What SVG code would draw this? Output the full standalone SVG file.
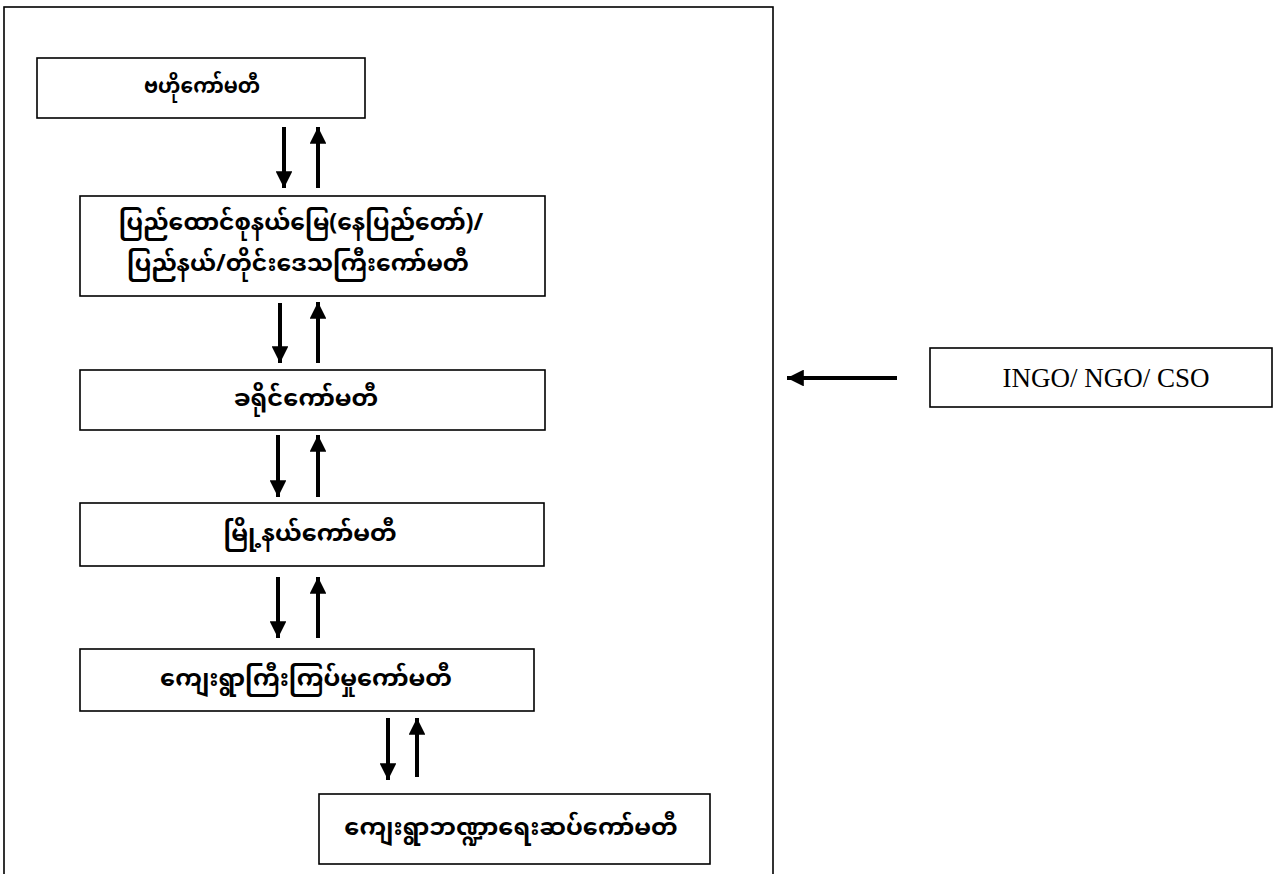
<svg xmlns="http://www.w3.org/2000/svg" width="1282" height="874" viewBox="0 0 1282 874">
<defs>
<marker id="ah" viewBox="0 0 10 10" refX="10" refY="5" markerWidth="4.2" markerHeight="4.2" orient="auto" markerUnits="strokeWidth">
<path d="M0,0 L10,5 L0,10 Z" fill="#000"/>
</marker>
<style>
.box{fill:#fff;stroke:#000;stroke-width:1.6}
.mm{font-family:"Noto Sans Myanmar","Padauk","Myanmar Text","Noto Sans",sans-serif;font-size:24px;font-weight:bold;text-anchor:middle;dominant-baseline:central;fill:#000}
.en{font-family:"Liberation Serif","Times New Roman",serif;font-size:27px;text-anchor:middle;dominant-baseline:central;fill:#000}
.arr{stroke:#000;stroke-width:4;fill:none;marker-end:url(#ah)}
</style>
</defs>
<rect x="0" y="0" width="1282" height="874" fill="#fff"/>
<rect id="frame" x="4" y="7" width="769" height="880" fill="none" stroke="#000" stroke-width="1.6"/>
<g id="n1"><rect class="box" x="37" y="58" width="328" height="60"/><text class="mm" x="202" y="88" style="font-size:22px" textLength="116" lengthAdjust="spacingAndGlyphs">ဗဟိုကော်မတီ</text></g>
<g id="n2"><rect class="box" x="80" y="196" width="465" height="100"/><text class="mm" x="301" y="224" style="font-size:23.5px">ပြည်ထောင်စုနယ်မြေ(နေပြည်တော်)/</text><text class="mm" x="298" y="265" style="font-size:23.5px">ပြည်နယ်/တိုင်းဒေသကြီးကော်မတီ</text></g>
<g id="n3"><rect class="box" x="80" y="370" width="465" height="60"/><text class="mm" x="306" y="400">ခရိုင်ကော်မတီ</text></g>
<g id="n4"><rect class="box" x="80" y="503" width="464" height="63"/><text class="mm" x="310" y="535">မြို့နယ်ကော်မတီ</text></g>
<g id="n5"><rect class="box" x="80" y="649" width="454" height="62"/><text class="mm" x="306" y="680">ကျေးရွာကြီးကြပ်မှုကော်မတီ</text></g>
<g id="n6"><rect class="box" x="319" y="794" width="391" height="70"/><text class="mm" x="511" y="829">ကျေးရွာဘဏ္ဍာရေးဆပ်ကော်မတီ</text></g>
<g id="n7"><rect class="box" x="930" y="348" width="342" height="59"/><text class="en" x="1106" y="378">INGO/ NGO/ CSO</text></g>
<g id="connectors">
<line class="arr" x1="284" y1="127" x2="284" y2="188"/>
<line class="arr" x1="318" y1="188" x2="318" y2="127"/>
<line class="arr" x1="280" y1="303" x2="280" y2="363"/>
<line class="arr" x1="318" y1="363" x2="318" y2="302"/>
<line class="arr" x1="278" y1="435" x2="278" y2="497"/>
<line class="arr" x1="318" y1="497" x2="318" y2="435"/>
<line class="arr" x1="278" y1="577" x2="278" y2="638"/>
<line class="arr" x1="318" y1="638" x2="318" y2="577"/>
<line class="arr" x1="388" y1="718" x2="388" y2="780"/>
<line class="arr" x1="417" y1="777" x2="417" y2="718"/>
<line class="arr" x1="897" y1="378" x2="787" y2="378"/>
</g>
</svg>
